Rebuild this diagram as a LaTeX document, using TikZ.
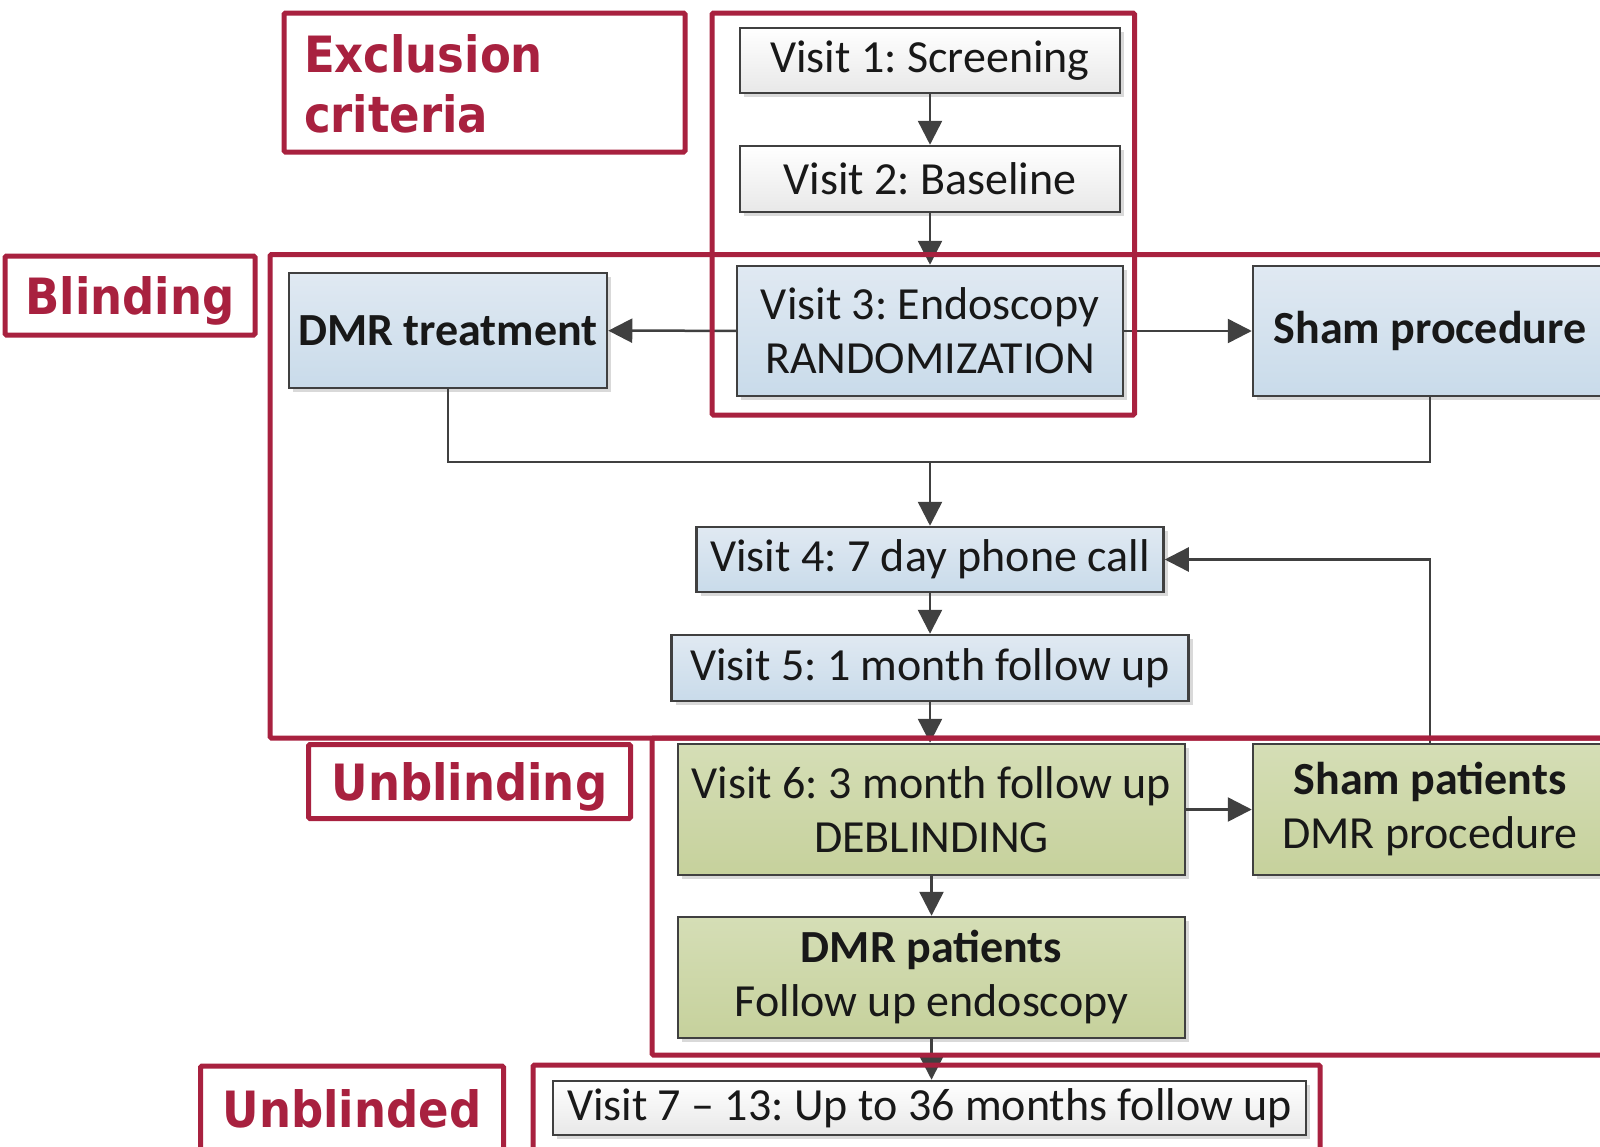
\documentclass[tikz,border=0pt]{standalone}
\usepackage{fontspec}
\setmainfont{Carlito}
\newfontfamily\tagfont{DejaVu Sans Condensed}
\usepackage{tikz}
\usetikzlibrary{arrows.meta, shadows}
\frenchspacing
\definecolor{mycrimson}{RGB}{168,33,63}
\definecolor{mygrey}{RGB}{64,64,64}
\definecolor{mytext}{RGB}{24,24,24}
\definecolor{bluetop}{RGB}{224,233,242}
\definecolor{bluebot}{RGB}{201,219,234}
\definecolor{greentop}{RGB}{213,222,182}
\definecolor{greenbot}{RGB}{198,209,156}
\definecolor{whitebot}{RGB}{232,232,232}
\tikzset{
  block/.style={rectangle, draw=mygrey, line width=2.5pt, inner sep=0pt, align=center, text=mytext,
    font=\fontsize{46}{54}\selectfont,
    drop shadow={shadow xshift=4pt, shadow yshift=-4pt, opacity=0.15, fill=black}},
  arrow/.style={-{Triangle[length=24pt,width=24pt]}, line width=2.5pt, color=mygrey},
  line/.style={line width=2.5pt, color=mygrey},
  frame/.style={draw=mycrimson, line width=5pt, rounded corners=1.5pt}
}

\begin{document}
\begin{tikzpicture}[x=1pt, y=-1pt,
  greybox/.style={block, top color=white, bottom color=whitebot},
  bluebox/.style={block, top color=bluetop, bottom color=bluebot},
  greenbox/.style={block, top color=greentop, bottom color=greenbot},
  tag/.style={frame, inner sep=0pt, text=mycrimson, text depth=0pt,
    font=\tagfont\bfseries\fontsize{50}{60}\selectfont}
]
\useasboundingbox (0,0) rectangle (1600,1146);
\clip (0,0) rectangle (1600,1146);

% visits before randomization
\node[greybox, minimum width=380pt, minimum height=65pt] (V1) at (930,60.5) {Visit 1: Screening};
\node[greybox, minimum width=380pt, minimum height=66pt] (V2) at (930,179) {Visit 2: Baseline};
\node[bluebox, minimum width=386pt, minimum height=130pt] (V3) at (930,331) {Visit 3: Endoscopy\\RANDOMIZATION};
\node[bluebox, minimum width=318pt, minimum height=115pt] (DMR) at (448,330.5) {\bfseries DMR treatment};
\node[bluebox, minimum width=354pt, minimum height=130pt] (SHAM) at (1430,331) {\bfseries Sham procedure};

% blinded follow up
\node[bluebox, minimum width=467pt, minimum height=65pt] (V4) at (930,559.5) {Visit 4: 7 day phone call};
\node[bluebox, minimum width=517pt, minimum height=66pt] (V5) at (930,668) {Visit 5: 1 month follow up};

% unblinding
\node[greenbox, minimum width=507pt, minimum height=131pt] (V6) at (931.5,809.5) {Visit 6: 3 month follow up\\DEBLINDING};
\node[greenbox, minimum width=354pt, minimum height=131pt] (SHP) at (1430,809.5) {{\bfseries Sham patients}\\DMR procedure};
\node[greenbox, minimum width=507pt, minimum height=121pt] (DMRP) at (931.5,977.5) {{\bfseries DMR patients}\\Follow up endoscopy};
\node[greybox, minimum width=753pt, minimum height=54pt] (V7) at (929.5,1108) {Visit 7 -- 13: Up to 36 months follow up};

% connectors
\coordinate (J) at (930,462);
\draw[arrow] (V1) -- (V2);
\draw[arrow] (V2) -- (V3);
\draw[arrow] (V3) -- (DMR);
\draw[arrow] (V3) -- (SHAM);
\draw[line] (DMR.south) |- (J) -| (SHAM.south);
\draw[arrow] (J) -- (V4);
\draw[arrow] (V4) -- (V5);
\draw[arrow] (V5.south) -- (V5.south |- V6.north);
\draw[arrow] (V6) -- (SHP);
\draw[arrow] (SHP.north) |- (V4.east);
\draw[arrow] (V6) -- (DMRP);
\draw[arrow] (DMRP.south) -- (DMRP.south |- V7.north);

% phase frames and tags
\draw[frame] (712,13) rectangle (1134.5,415);
\draw[frame] (270,254.5) rectangle (1620,738);
\draw[frame] (652,738) rectangle (1620,1055);
\draw[frame] (533,1065) rectangle (1320,1160);
\node[tag, minimum width=401pt, minimum height=139pt, text width=361pt, align=left,
  text height=39pt, text depth=60pt] (EXC) at (484.5,82.5) {Exclusion\\criteria};
\node[tag, minimum width=250pt, minimum height=79pt] (BLI) at (130,295.5) {Blinding};
\node[tag, minimum width=322pt, minimum height=74pt] (UNB) at (469.5,781.5) {Unblinding};
\node[tag, minimum width=303pt, minimum height=84pt] (UNBD) at (352,1108) {Unblinded};
\end{tikzpicture}
\end{document}
